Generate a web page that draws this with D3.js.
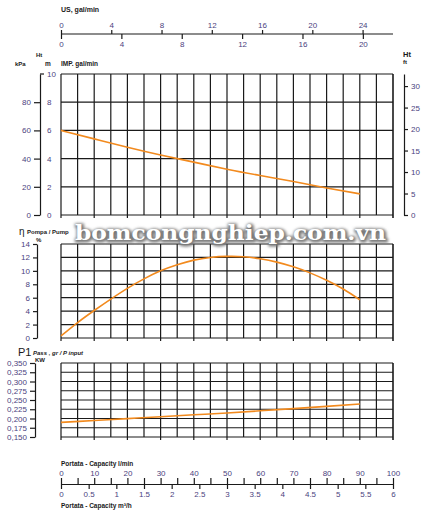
<!DOCTYPE html>
<html>
<head>
<meta charset="utf-8">
<script src="https://cdn.jsdelivr.net/npm/d3@7"></script>
<style>
  body { margin: 0; background: #fff; }
  svg { display: block; }
</style>
</head>
<body>
<div id="container"></div>
<script>
let w = 428;
let h = 517;

// DATA
let flow = [0, 10, 20, 30, 40, 50, 60, 70, 80, 90];           // l/min
let headM = [6.0, 5.4, 4.8, 4.25, 3.75, 3.25, 2.8, 2.37, 1.92, 1.5];
let powerKW = [0.1895, 0.1946, 0.1997, 0.2049, 0.210, 0.2149, 0.2208, 0.2268, 0.2327, 0.2392];
let effFlow = [0, 5, 10, 15, 20, 25, 30, 35, 40, 45, 50, 55, 60, 65, 70, 75, 80, 85, 90];
let effPct = [0.3, 2.3, 4.1, 5.8, 7.4, 8.8, 10.0, 10.9, 11.6, 12.0, 12.15, 12.1, 11.8, 11.3, 10.6, 9.7, 8.6, 7.3, 5.7];

// tick labels
let lminLabels = [0, 10, 20, 30, 40, 50, 60, 70, 80, 90, 100];
let lminTicks = [0, 5, 10, 15, 20, 25, 30, 35, 40, 45, 50, 55, 60, 65, 70, 75, 80, 85, 90, 95, 100];
let m3hLabels = [0, 0.5, 1, 1.5, 2, 2.5, 3, 3.5, 4, 4.5, 5, 5.5, 6];
let usLabels = [0, 4, 8, 12, 16, 20, 24];
let impLabels = [0, 4, 8, 12, 16, 20];
let kPaLabels = [0, 20, 40, 60, 80];
let mLabels = [0, 2, 4, 6, 8, 10];
let ftLabels = [0, 5, 10, 15, 20, 25, 30];
let effLabels = [0, 2, 4, 6, 8, 10, 12, 14];
let powerLabels = [0.150, 0.175, 0.200, 0.225, 0.250, 0.275, 0.300, 0.325, 0.350];

let ink = "#1a1a1a";
let numColor = "#4b3f80";
let orange = "#f28a1e";
let font = "'Liberation Sans Narrow', 'Liberation Sans', Arial, sans-serif";

let viz = d3.select("#container").append("svg")
    .attr("width", w)
    .attr("height", h)
    .style("background-color", "#ffffff")
    .style("font-family", font);

// SCALES
let x = d3.scaleLinear().domain([0, 100]).range([61, 393]);
let xUS = d3.scaleLinear().domain([0, 100 / 3.785]).range([61, 393]);
let xIMP = d3.scaleLinear().domain([0, 100 / 4.546]).range([61, 393]);
let xM3h = d3.scaleLinear().domain([0, 6]).range([61, 393]);

let yHead = d3.scaleLinear().domain([0, 10]).range([215, 74]);
let yKPa = d3.scaleLinear().domain([0, 100]).range([215, 74]);
let yFt = d3.scaleLinear().domain([0, 32.81]).range([215, 74]);
let yEff = d3.scaleLinear().domain([0, 14]).range([338, 244]);
let yPow = d3.scaleLinear().domain([0.15, 0.35]).range([437, 363]);

function styleAxis(g, size) {
  g.selectAll("path, line").attr("stroke", ink).attr("stroke-width", 1.2);
  g.selectAll("text").attr("fill", numColor).style("font-size", (size || 8) + "px").style("font-family", font);
}

// GRIDS
function grid(yScale, yVals) {
  let g = viz.append("g");
  g.selectAll(".h").data(yVals).enter().append("line")
      .attr("x1", x(0)).attr("x2", x(100))
      .attr("y1", d => yScale(d)).attr("y2", d => yScale(d))
      .attr("stroke", ink).attr("stroke-width", 1.2);
  let y0 = yScale(yScale.domain()[0]);
  let y1 = yScale(yScale.domain()[1]);
  g.selectAll(".v").data(lminTicks).enter().append("line")
      .attr("x1", d => x(d)).attr("x2", d => x(d))
      .attr("y1", y1)
      .attr("y2", d => d % 10 == 0 ? y0 + 3 : y0)
      .attr("stroke", ink)
      .attr("stroke-width", d => d == 100 ? 1.6 : 1.2);
}
grid(yHead, mLabels);
grid(yEff, effLabels);
grid(yPow, powerLabels);

// TOP FLOW AXES
let usAxis = viz.append("g").attr("transform", "translate(0,34)")
    .call(d3.axisTop(xUS).tickValues(usLabels).tickSize(4).tickSizeOuter(0).tickPadding(2));
styleAxis(usAxis);
usAxis.select(".domain").attr("d", "M61,0H393");
let impAxis = viz.append("g").attr("transform", "translate(0,34)")
    .call(d3.axisBottom(xIMP).tickValues(impLabels).tickSize(5).tickSizeOuter(0).tickPadding(2));
styleAxis(impAxis);
impAxis.select(".domain").remove();

// HEAD AXES
let kpaAxis = viz.append("g").attr("transform", "translate(40,0)")
    .call(d3.axisLeft(yKPa).tickValues(kPaLabels).tickSize(6).tickSizeOuter(0).tickPadding(3));
styleAxis(kpaAxis);
let mAxis = viz.append("g").attr("transform", "translate(40,0)")
    .call(d3.axisRight(yHead).tickValues(mLabels).tickSize(0).tickSizeOuter(0).tickPadding(7));
styleAxis(mAxis);
mAxis.select(".domain").remove();
viz.append("line").attr("x1", 40).attr("x2", 44).attr("y1", yHead(10)).attr("y2", yHead(10))
    .attr("stroke", ink).attr("stroke-width", 1.2);

let ftAxis = viz.append("g").attr("transform", "translate(404,0)")
    .call(d3.axisRight(yFt).tickValues(ftLabels).tickSize(4).tickSizeOuter(0).tickPadding(3));
styleAxis(ftAxis);

// EFFICIENCY AXIS
let effAxis = viz.append("g").attr("transform", "translate(37,0)")
    .call(d3.axisLeft(yEff).tickValues(effLabels).tickSize(4).tickSizeOuter(0).tickPadding(3));
styleAxis(effAxis);

// POWER AXIS
let powAxis = viz.append("g").attr("transform", "translate(35,0)")
    .call(d3.axisLeft(yPow).tickValues(powerLabels).tickSize(5).tickSizeOuter(0).tickPadding(3)
      .tickFormat(d => d3.format(".3f")(d).replace(".", ",")));
styleAxis(powAxis);

// BOTTOM FLOW AXES
let lminAxis = viz.append("g").attr("transform", "translate(0,484)")
    .call(d3.axisTop(x).tickValues(lminTicks).tickSize(6).tickSizeOuter(0).tickPadding(2)
      .tickFormat(d => d % 10 == 0 ? d : ""));
styleAxis(lminAxis);
let m3hAxis = viz.append("g").attr("transform", "translate(0,484)")
    .call(d3.axisBottom(xM3h).tickValues(m3hLabels).tickSize(5).tickSizeOuter(0).tickPadding(2)
      .tickFormat(d => String(d)));
styleAxis(m3hAxis);
m3hAxis.select(".domain").remove();

// CURVES
function curve(xs, ys, yScale) {
  let line = d3.line().x((d, i) => x(xs[i])).y(d => yScale(d)).curve(d3.curveNatural);
  viz.append("path").datum(ys)
      .attr("d", line)
      .attr("fill", "none")
      .attr("stroke", orange)
      .attr("stroke-width", 1.6);
}
curve(flow, headM, yHead);
curve(effFlow, effPct, yEff);
curve(flow, powerKW, yPow);

// LABELS
function label(tx, ty, text, size, opts) {
  opts = opts || {};
  return viz.append("text")
      .attr("x", tx).attr("y", ty)
      .attr("fill", opts.fill || ink)
      .attr("text-anchor", opts.anchor || "start")
      .style("font-size", size + "px")
      .style("font-weight", opts.weight || "bold")
      .style("font-style", opts.italic ? "italic" : "normal")
      .style("font-family", "'Liberation Sans', Arial, sans-serif")
      .text(text);
}
label(61, 12, "US, gal/min", 7);
label(36, 57, "Ht", 6);
label(15, 66, "kPa", 6);
label(45, 66, "m", 6.5);
label(61, 66, "IMP. gal/min", 6.5);
label(403, 57, "Ht", 7.5);
label(403, 64, "ft", 6);

label(19, 235, "η", 10, {weight: "normal"});
label(27, 234, "Pompa / Pump", 6);
label(36, 242, "%", 6);

label(18, 356, "P1", 11, {weight: "normal"});
label(33, 355, "Pass , gr / P input", 6, {italic: true});
label(35, 362, "KW", 6);

label(61, 466, "Portata - Capacity l/min", 6.5);
label(61, 508, "Portata - Capacity m³/h", 6.5);

// WATERMARK
let defs = viz.append("defs");
let blur = defs.append("filter").attr("id", "glow").attr("x", "-10%").attr("y", "-40%").attr("width", "120%").attr("height", "180%");
blur.append("feGaussianBlur").attr("stdDeviation", 1.8);

let wm = viz.append("g");
wm.append("text")
    .attr("x", 76).attr("y", 241)
    .attr("textLength", 311).attr("lengthAdjust", "spacingAndGlyphs")
    .attr("fill", "#777").attr("stroke", "#777").attr("stroke-width", 3)
    .attr("filter", "url(#glow)")
    .style("font-family", "'DejaVu Serif', serif").style("font-weight", "bold").style("font-size", "21px")
    .text("bomcongnghiep.com.vn");
wm.append("text")
    .attr("x", 75).attr("y", 240)
    .attr("textLength", 311).attr("lengthAdjust", "spacingAndGlyphs")
    .attr("fill", "#ffffff")
    .style("font-family", "'DejaVu Serif', serif").style("font-weight", "bold").style("font-size", "21px")
    .text("bomcongnghiep.com.vn");
</script>
</body>
</html>
